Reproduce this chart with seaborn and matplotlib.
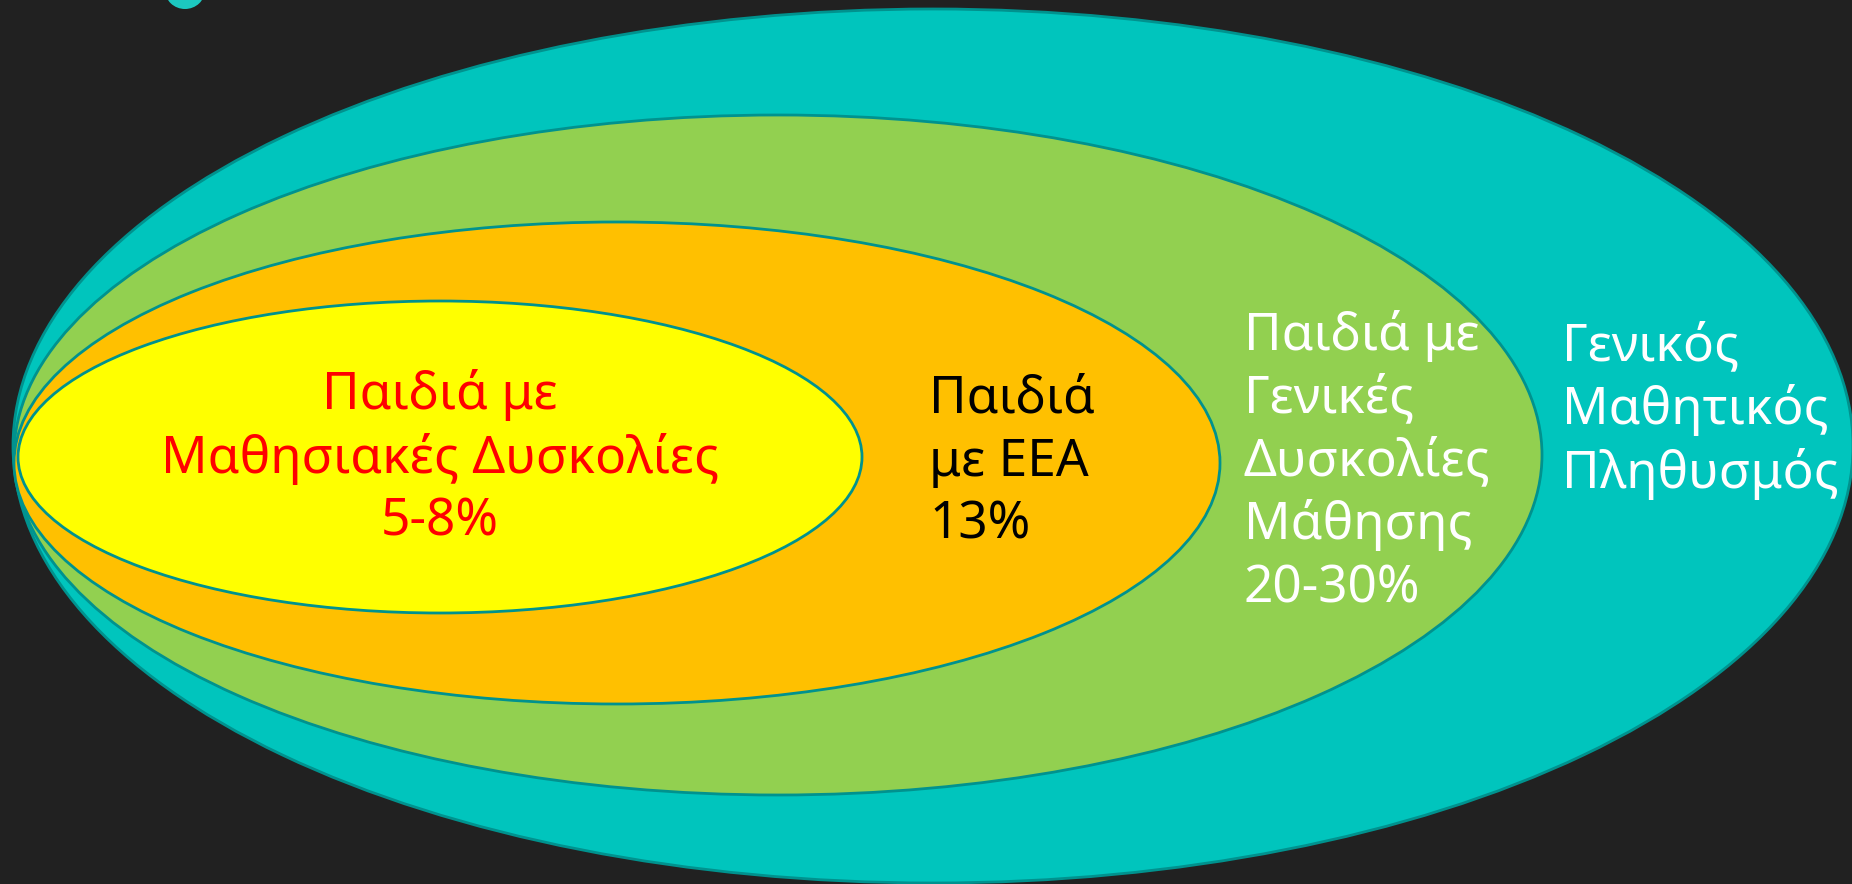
import seaborn as sns
import matplotlib.pyplot as plt
from matplotlib.patches import Ellipse

# nested groups, outermost first
groups = ["Γενικός Μαθητικός Πληθυσμός",
          "Παιδιά με Γενικές Δυσκολίες Μάθησης",
          "Παιδιά με ΕΕΑ",
          "Παιδιά με Μαθησιακές Δυσκολίες"]
shares = ["", "20-30%", "13%", "5-8%"]
label_lines = [["Γενικός", "Μαθητικός", "Πληθυσμός"],
               ["Παιδιά με", "Γενικές", "Δυσκολίες", "Μάθησης"],
               ["Παιδιά", "με ΕΕΑ"],
               ["Παιδιά με", "Μαθησιακές Δυσκολίες"]]

# layout in pixels (x, y centre, width, height)
shapes = [(933, 446, 1840, 874),
          (778, 455, 1528, 680),
          (617, 463, 1206, 482),
          (440, 457, 844, 312)]
fills = ["#00C5BD", "#92D050", "#FFC000", "#FFFF00"]
text_pos = [(1562, 411, "left"), (1244, 462, "left"), (929, 462, "left"), (440, 458, "center")]
text_col = ["white", "white", "black", "#FF0000"]

sns.set_theme(style="dark")
plt.rcParams["font.family"] = ["Noto Sans", "DejaVu Sans"]

fig = plt.figure(figsize=(18.52, 8.84), dpi=100)
fig.patch.set_facecolor("#212121")
ax = fig.add_axes([0, 0, 1, 1])
ax.set_facecolor("#212121")
ax.set_xlim(0, 1852)
ax.set_ylim(884, 0)
ax.axis("off")

# little bit of a shape peeking in at the top
ax.add_patch(Ellipse((185, -10), 40, 38, facecolor="#1CC8C0", edgecolor="none"))

for (cx, cy, w, h), fc in zip(shapes, fills):
    ax.add_patch(Ellipse((cx, cy), w, h, facecolor=fc, edgecolor="#00928E", linewidth=2))

for lines, share, (tx, ty, ha), col in zip(label_lines, shares, text_pos, text_col):
    txt = "\n".join(lines + ([share] if share else []))
    ax.text(tx, ty, txt, ha=ha, va="center", multialignment=ha, color=col,
            fontsize=37, linespacing=1.3)

fig.savefig("out.png", dpi=100, facecolor=fig.get_facecolor())
